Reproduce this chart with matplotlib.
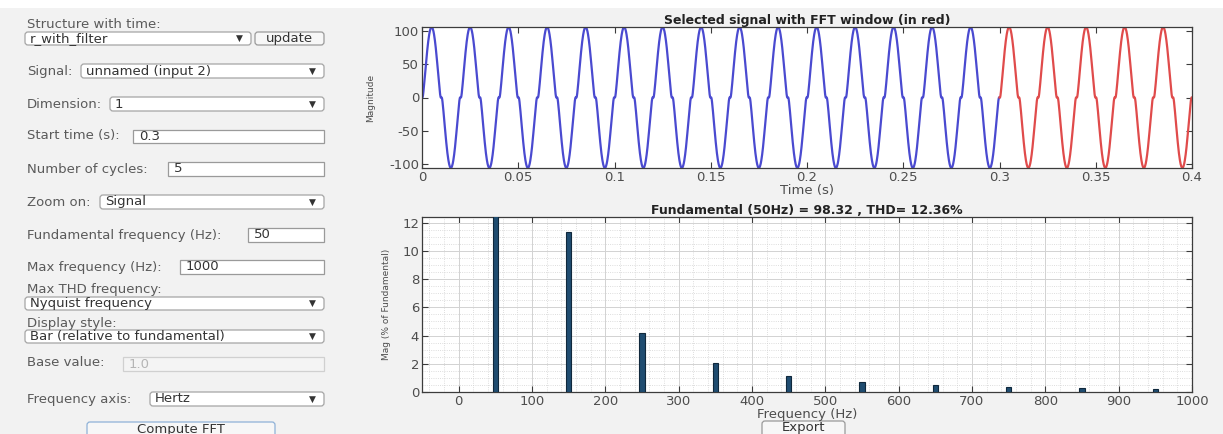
import numpy as np
import matplotlib.pyplot as plt
from matplotlib.patches import FancyBboxPatch, Rectangle
from matplotlib.ticker import MultipleLocator, FuncFormatter

# ---- data ----
fund_freq = 50
fund_mag = 98.32
harm_order = np.array([1, 3, 5, 7, 9, 11, 13, 15, 17, 19])
harm_pct = np.array([100, 11.33, 4.15, 2.03, 1.13, 0.73, 0.49, 0.37, 0.26, 0.19])
fft_start = 0.3
n_cycles = 5
t_end = 0.4

top_title = 'Selected signal with FFT window (in red)'
bot_title = 'Fundamental (50Hz) = 98.32 , THD= 12.36%'

# left GUI panel: labels and field values
panel_labels = ['Structure with time:', 'Signal:', 'Dimension:', 'Start time (s):',
                'Number of cycles:', 'Zoom on:', 'Fundamental frequency (Hz):',
                'Max frequency (Hz):', 'Max THD frequency:', 'Display style:',
                'Base value:', 'Frequency axis:']
panel_values = ['r_with_filter', 'unnamed (input 2)', '1', '0.3', '5', 'Signal', '50',
                '1000', 'Nyquist frequency', 'Bar (relative to fundamental)', '1.0', 'Hertz']
panel_kinds = ['drop', 'drop', 'drop', 'edit', 'edit', 'drop', 'edit',
               'edit', 'drop', 'drop', 'disabled', 'drop']

# layout in screen pixels (label y centre, field box x0, y0, x1, y1)
label_y = [24, 71, 104, 136, 169, 202, 235, 267, 289, 324, 363, 399]
field_box = [(25, 32, 251, 45), (81, 64, 324, 78), (110, 97, 324, 111),
             (133, 130, 324, 143), (168, 162, 324, 176), (100, 195, 324, 209),
             (248, 228, 324, 242), (180, 260, 324, 274), (25, 297, 324, 310),
             (25, 330, 324, 343), (123, 357, 324, 371), (150, 392, 324, 406)]

W, H = 1223, 434
bg = '#f2f2f2'
txt_col = '#5a5a5a'
fs = 9.5
plt.rcParams['font.family'] = ['DejaVu Sans']
plt.rcParams['axes.unicode_minus'] = False

fig = plt.figure(figsize=(W / 100, H / 100), dpi=100, facecolor=bg)

# overlay axes in pixel units for the GUI widgets
gui = fig.add_axes([0, 0, 1, 1])
gui.set_xlim(0, W)
gui.set_ylim(H, 0)
gui.axis('off')
gui.add_patch(Rectangle((0, 0), W, 8, facecolor='white', edgecolor='none'))


def rbox(x0, y0, x1, y1, face='white', edge='#a5a5a5', rounded=True):
    if rounded:
        p = FancyBboxPatch((x0, y0), x1 - x0, y1 - y0,
                           boxstyle='round,pad=0,rounding_size=3',
                           facecolor=face, edgecolor=edge, lw=0.9)
    else:
        p = Rectangle((x0, y0), x1 - x0, y1 - y0, facecolor=face, edgecolor=edge, lw=0.9)
    gui.add_patch(p)


for lab, ly, val, kind, (x0, y0, x1, y1) in zip(panel_labels, label_y, panel_values,
                                                  panel_kinds, field_box):
    gui.text(27, ly, lab, ha='left', va='center', fontsize=fs, color=txt_col)
    yc = (y0 + y1) / 2
    if kind == 'drop':
        rbox(x0, y0, x1, y1)
        gui.text(x0 + 5, yc, val, ha='left', va='center', fontsize=fs, color='#333333')
        gui.text(x1 - 12, yc, '\u25bc', ha='center', va='center', fontsize=6.5, color='#333333')
    elif kind == 'edit':
        rbox(x0, y0, x1, y1, edge='#9a9a9a', rounded=False)
        gui.text(x0 + 6, yc, val, ha='left', va='center', fontsize=fs, color='#333333')
    else:
        rbox(x0, y0, x1, y1, face='#f4f4f4', edge='#d0d0d0', rounded=False)
        gui.text(x0 + 6, yc, val, ha='left', va='center', fontsize=fs, color='#b5b5b5')

# buttons
rbox(255, 32, 324, 45, face='#f7f7f7', edge='#9a9a9a')
gui.text(289.5, 38.5, 'update', ha='center', va='center', fontsize=fs, color='#333333')
rbox(87, 422, 275, 442, face='#f7f7f7', edge='#8fb2d8')
gui.text(181, 429, 'Compute FFT', ha='center', va='center', fontsize=fs, color='#333333')
rbox(762, 421, 845, 442, face='#f7f7f7', edge='#9a9a9a')
gui.text(803.5, 428, 'Export', ha='center', va='center', fontsize=fs, color='#333333')

# ---- signal rebuilt from the read spectrum ----
t = np.linspace(0, t_end, 8001)
sign = np.where(harm_order == 1, 1.0, -1.0)
sig = np.zeros_like(t)
for n, p, s in zip(harm_order, harm_pct, sign):
    sig += s * fund_mag * p / 100 * np.sin(2 * np.pi * n * fund_freq * t)
win_end = fft_start + n_cycles / fund_freq
blue = t <= fft_start
red = (t >= fft_start) & (t <= win_end)


def px_rect(x0, y0, x1, y1):
    return [x0 / W, 1 - y1 / H, (x1 - x0) / W, (y1 - y0) / H]


axis_col = '#3c3c3c'
tick_col = '#4d4d4d'


def style(ax):
    ax.set_facecolor('white')
    for sp in ax.spines.values():
        sp.set_color(axis_col)
        sp.set_linewidth(0.9)
    ax.tick_params(direction='in', top=True, right=True, length=4, width=0.8,
                   labelsize=fs, labelcolor=tick_col, colors=axis_col, pad=2)
    ax.tick_params(which='minor', length=0)


fmt = FuncFormatter(lambda v, pos: '%g' % v)

ax1 = fig.add_axes(px_rect(422, 27, 1192, 168))
ax1.plot(t[blue], sig[blue], color='#4a4ad0', lw=1.6)
ax1.plot(t[red], sig[red], color='#e04b4b', lw=1.6)
ax1.set_xlim(0, t_end)
ax1.set_ylim(sig.min(), sig.max())
ax1.set_xticks(np.arange(0, 0.401, 0.05))
ax1.set_yticks([-100, -50, 0, 50, 100])
ax1.xaxis.set_major_formatter(fmt)
style(ax1)
ax1.set_title(top_title, fontsize=9, fontweight='bold', color='#222222', pad=2)
ax1.set_xlabel('Time (s)', fontsize=fs, color=tick_col, labelpad=0.5)
ax1.set_ylabel('Magnitude', fontsize=6.5, color=tick_col, labelpad=10)

ax2 = fig.add_axes(px_rect(422, 217, 1192, 392))
ax2.bar(harm_order * fund_freq, harm_pct, width=7, color='#1f4c70',
        edgecolor='#10283c', lw=0.8, zorder=3)
ax2.set_xlim(-50, 1000)
ax2.set_ylim(0, 12.4)
ax2.set_xticks(np.arange(0, 1001, 100))
ax2.set_yticks(np.arange(0, 13, 2))
ax2.xaxis.set_minor_locator(MultipleLocator(20))
ax2.yaxis.set_minor_locator(MultipleLocator(0.5))
ax2.grid(which='major', color='#d2d2d2', lw=0.7, zorder=0)
ax2.grid(which='minor', color='#d2d2d2', lw=0.6, ls=':', zorder=0)
style(ax2)
ax2.set_title(bot_title, fontsize=9, fontweight='bold', color='#222222', pad=2)
ax2.set_xlabel('Frequency (Hz)', fontsize=fs, color=tick_col, labelpad=0)
ax2.set_ylabel('Mag (% of Fundamental)', fontsize=6.5, color=tick_col, labelpad=8)

fig.savefig('out.png', dpi=100, facecolor=bg)
